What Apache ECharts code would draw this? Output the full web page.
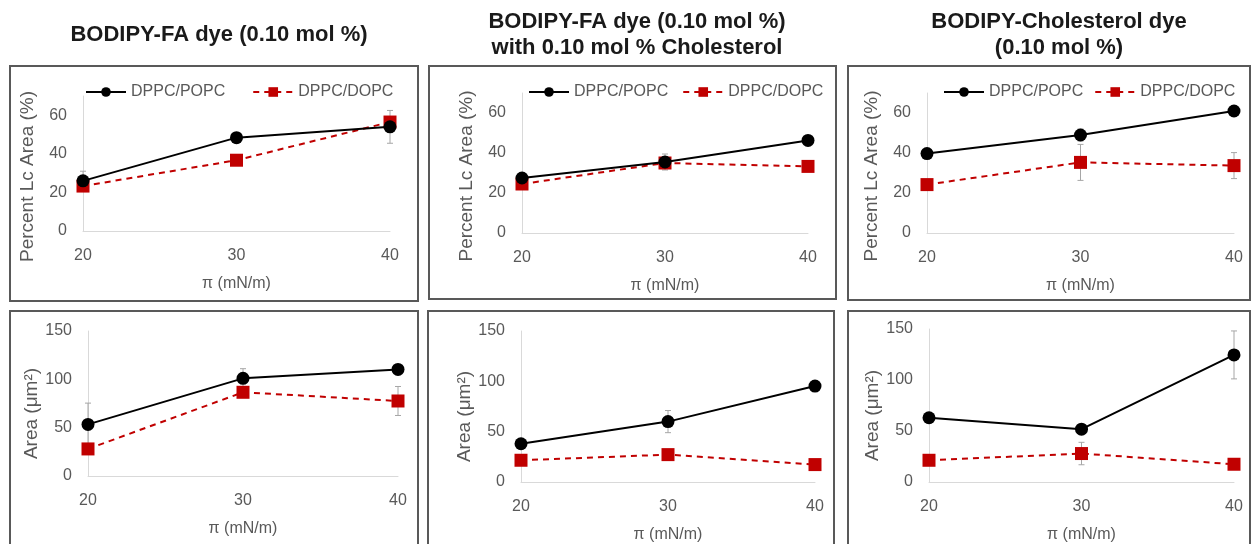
<!DOCTYPE html>
<html>
<head>
<meta charset="utf-8">
<script src="https://cdn.jsdelivr.net/npm/echarts@6/dist/echarts.min.js"></script>
<style>
  html, body { margin: 0; padding: 0; background: #fff; }
  #main { width: 1252px; height: 544px; }
</style>
</head>
<body>
<div id="main"></div>
<script>
// x values (surface pressure, mN/m)
const pressure = [20, 30, 40]

// top row: percent Lc area (%)
const lcFaPopc = [26, 48.4, 54]
const lcFaDopc = [23.3, 36.7, 56.5]
const lcFaCholPopc = [27.5, 35.5, 46.3]
const lcFaCholDopc = [24.5, 35, 33.3]
const lcCholDyePopc = [39.7, 49, 61]
const lcCholDyeDopc = [24.2, 35.3, 33.7]

// bottom row: area (um2)
const areaFaPopc = [53.4, 101, 110.3]
const areaFaDopc = [28, 86.6, 77.6]
const areaFaCholPopc = [38, 60, 95.3]
const areaFaCholDopc = [21.6, 27.2, 17.3]
const areaCholDyePopc = [63, 51.8, 124.6]
const areaCholDyeDopc = [21.3, 27.9, 17.4]

// error bars (+/-), 0 = none
const lcFaPopcErr = [5, 0, 8.5]
const lcFaDopcErr = [0, 0, 0]
const lcFaCholPopcErr = [0, 4, 0]
const lcFaCholDopcErr = [0, 0, 0]
const lcCholDyePopcErr = [0, 3, 0]
const lcCholDyeDopcErr = [0, 9, 6.5]
const areaFaPopcErr = [22, 10, 0]
const areaFaDopcErr = [0, 0, 15]
const areaFaCholPopcErr = [0, 11, 0]
const areaFaCholDopcErr = [0, 0, 0]
const areaCholDyePopcErr = [0, 0, 23.5]
const areaCholDyeDopcErr = [0, 11, 0]

const titles = [
  'BODIPY-FA dye (0.10 mol %)',
  'BODIPY-FA dye (0.10 mol %)\nwith 0.10 mol % Cholesterol',
  'BODIPY-Cholesterol dye\n(0.10 mol %)',
]

const chart = echarts.init(document.getElementById('main'))

const FONT = 'Liberation Sans, Arial, sans-serif'
const GRAY = '#595959'

// panel layout: grid px + box px
const panels = [
  { grid: { left: 83, top: 96, width: 307, height: 135 }, box: [10, 66, 408, 235], top: true, popc: lcFaPopc, dopc: lcFaDopc, popcErr: lcFaPopcErr, dopcErr: lcFaDopcErr },
  { grid: { left: 522, top: 93, width: 286, height: 140 }, box: [429, 66, 407, 233], top: true, popc: lcFaCholPopc, dopc: lcFaCholDopc, popcErr: lcFaCholPopcErr, dopcErr: lcFaCholDopcErr },
  { grid: { left: 927, top: 93, width: 307, height: 140 }, box: [848, 66, 402, 234], top: true, popc: lcCholDyePopc, dopc: lcCholDyeDopc, popcErr: lcCholDyePopcErr, dopcErr: lcCholDyeDopcErr },
  { grid: { left: 88, top: 331, width: 310, height: 145 }, box: [10, 311, 408, 240], top: false, popc: areaFaPopc, dopc: areaFaDopc, popcErr: areaFaPopcErr, dopcErr: areaFaDopcErr },
  { grid: { left: 521, top: 331, width: 294, height: 151 }, box: [428, 311, 406, 240], top: false, popc: areaFaCholPopc, dopc: areaFaCholDopc, popcErr: areaFaCholPopcErr, dopcErr: areaFaCholDopcErr },
  { grid: { left: 929, top: 329, width: 305, height: 153 }, box: [848, 311, 402, 240], top: false, popc: areaCholDyePopc, dopc: areaCholDyeDopc, popcErr: areaCholDyePopcErr, dopcErr: areaCholDyeDopcErr },
]

function errData(vals, errs) {
  return pressure.map((p, i) => [p, vals[i] - errs[i], vals[i] + errs[i], errs[i]]).filter(d => d[3] > 0)
}

function renderErr(params, api) {
  const lo = api.coord([api.value(0), api.value(1)])
  const hi = api.coord([api.value(0), api.value(2)])
  const w = 3
  const style = { stroke: '#a6a6a6', lineWidth: 1, fill: null }
  return {
    type: 'group',
    children: [
      { type: 'line', shape: { x1: lo[0], y1: lo[1], x2: hi[0], y2: hi[1] }, style: style },
      { type: 'line', shape: { x1: lo[0] - w, y1: lo[1], x2: lo[0] + w, y2: lo[1] }, style: style },
      { type: 'line', shape: { x1: hi[0] - w, y1: hi[1], x2: hi[0] + w, y2: hi[1] }, style: style },
    ],
  }
}

const grid = [], xAxis = [], yAxis = [], series = [], graphic = []

panels.forEach((p, i) => {
  grid.push(p.grid)
  graphic.push({
    type: 'rect',
    shape: { x: p.box[0], y: p.box[1], width: p.box[2], height: p.box[3] },
    style: { fill: null, stroke: GRAY, lineWidth: 2 },
    z: 0,
  })
  xAxis.push({
    gridIndex: i,
    type: 'value',
    min: 20,
    max: 40,
    interval: 10,
    name: 'π (mN/m)',
    nameLocation: 'middle',
    nameGap: 45,
    nameTextStyle: { fontFamily: FONT, fontSize: 16, color: GRAY },
    axisLine: { show: true, lineStyle: { color: '#d9d9d9', width: 1 } },
    axisTick: { show: false },
    splitLine: { show: false },
    axisLabel: { fontFamily: FONT, fontSize: 16, color: GRAY, margin: 17 },
  })
  yAxis.push({
    gridIndex: i,
    type: 'value',
    min: 0,
    max: p.top ? 70 : 150,
    interval: p.top ? 20 : 50,
    name: p.top ? 'Percent Lc Area (%)' : 'Area (μm²)',
    nameLocation: 'middle',
    nameGap: p.top ? 46 : 44,
    nameTextStyle: { fontFamily: FONT, fontSize: 19, color: GRAY, padding: p.top ? [0, 26, 0, 0] : [0, 20, 0, 0] },
    axisLine: { show: true, lineStyle: { color: '#d9d9d9', width: 1 } },
    axisTick: { show: false },
    splitLine: { show: false },
    axisLabel: { fontFamily: FONT, fontSize: 16, color: GRAY, margin: 16, showMaxLabel: !p.top },
  })
  series.push({
    type: 'custom',
    xAxisIndex: i,
    yAxisIndex: i,
    renderItem: renderErr,
    data: errData(p.popc, p.popcErr),
    z: 1,
    silent: true,
  })
  series.push({
    type: 'custom',
    xAxisIndex: i,
    yAxisIndex: i,
    renderItem: renderErr,
    data: errData(p.dopc, p.dopcErr),
    z: 1,
    silent: true,
  })
  series.push({
    name: 'DPPC/POPC',
    type: 'line',
    xAxisIndex: i,
    yAxisIndex: i,
    data: pressure.map((x, k) => [x, p.popc[k]]),
    symbol: 'circle',
    symbolSize: 13,
    lineStyle: { color: '#000', width: 2 },
    itemStyle: { color: '#000' },
    z: 3,
  })
  series.push({
    name: 'DPPC/DOPC',
    type: 'line',
    xAxisIndex: i,
    yAxisIndex: i,
    data: pressure.map((x, k) => [x, p.dopc[k]]),
    symbol: 'rect',
    symbolSize: 13,
    lineStyle: { color: '#c00000', width: 2, type: [6, 5] },
    itemStyle: { color: '#c00000' },
    z: 2,
  })
})

const legendBase = {
  top: 79,
  itemWidth: 40,
  itemHeight: 12,
  itemGap: 14,
  textStyle: { fontFamily: FONT, fontSize: 16, color: GRAY },
  data: ['DPPC/POPC', 'DPPC/DOPC'],
}

const option = {
  animation: false,
  backgroundColor: '#fff',
  title: [
    { text: titles[0], left: 214, top: 17, textAlign: 'center' },
    { text: titles[1], left: 632, top: 4, textAlign: 'center' },
    { text: titles[2], left: 1054, top: 4, textAlign: 'center' },
  ].map(t => Object.assign(t, {
    textStyle: { fontFamily: FONT, fontSize: 22, fontWeight: 'bold', color: '#1a1a1a', lineHeight: 26 },
  })),
  legend: [
    Object.assign({}, legendBase, { left: 80, itemGap: 27 }),
    Object.assign({}, legendBase, { left: 523, itemGap: 14 }),
    Object.assign({}, legendBase, { left: 938, itemGap: 11 }),
  ],
  graphic: graphic,
  grid: grid,
  xAxis: xAxis,
  yAxis: yAxis,
  series: series,
}

chart.setOption(option)
</script>
</body>
</html>
